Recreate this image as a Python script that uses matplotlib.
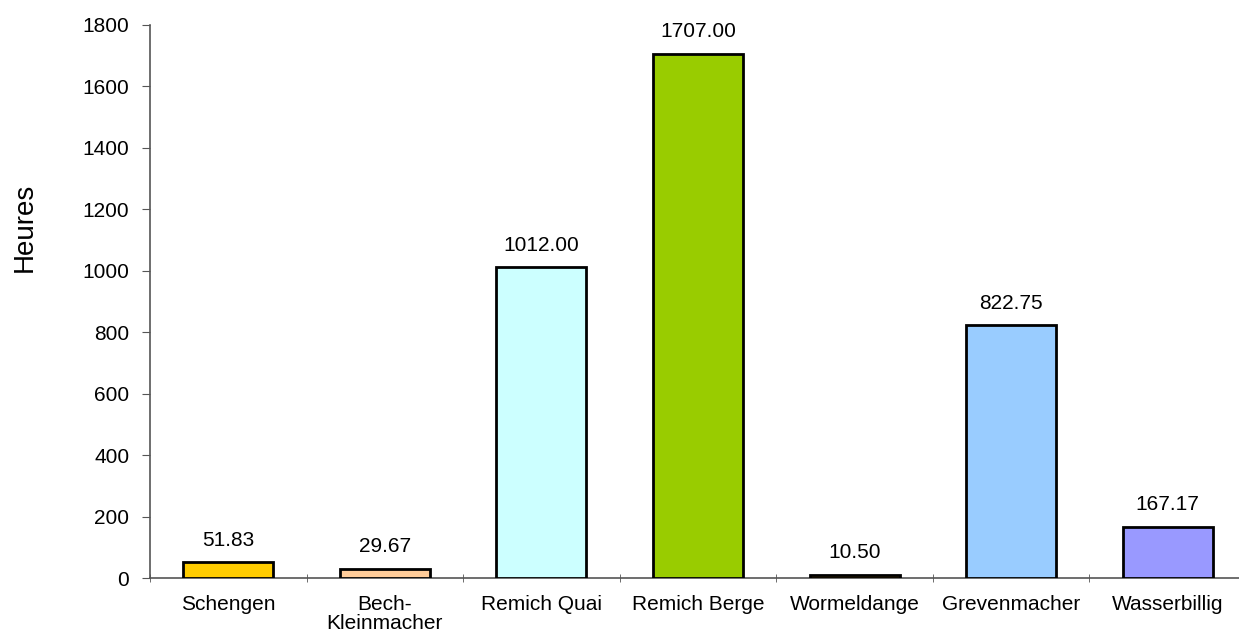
import numpy as np
import matplotlib.pyplot as plt

plt.rcParams['font.family'] = ['Liberation Sans', 'DejaVu Sans']

stations = ['Schengen', 'Bech-\nKleinmacher', 'Remich Quai', 'Remich Berge',
            'Wormeldange', 'Grevenmacher', 'Wasserbillig']
heures = [51.83, 29.67, 1012.00, 1707.00, 10.50, 822.75, 167.17]
couleurs = ['#FFCC00', '#FFCC99', '#CCFFFF', '#99CC00', '#996600', '#99CCFF', '#9999FF']

fig = plt.figure(figsize=(12.39, 6.35), dpi=100)
ax = fig.add_axes([150 / 1239, 57 / 635, 1096 / 1239, 553 / 635])

x = np.arange(len(stations))
ax.bar(x, heures, width=0.575, color=couleurs, edgecolor='black', linewidth=2, zorder=3)

for xi, h in zip(x, heures):
    ax.annotate(f'{h:.2f}', (xi, h), xytext=(0, 9), textcoords='offset points',
                ha='center', va='bottom', fontsize=15)

ax.set_xlim(-0.5, len(stations) - 0.5)
ax.set_ylim(0, 1800)
ax.set_yticks(np.arange(0, 1801, 200))
ax.set_xticks(x)
ax.set_xticklabels(stations, fontsize=15, linespacing=1.05)
ax.set_xticks(np.arange(-0.5, len(stations), 1), minor=True)
ax.tick_params(axis='x', which='major', length=0, pad=12)
ax.tick_params(axis='x', which='minor', length=6, color='#555555', direction='inout')
ax.tick_params(axis='y', labelsize=15, length=6, color='#555555', pad=9)

for s in ['top', 'right']:
    ax.spines[s].set_visible(False)
for s in ['left', 'bottom']:
    ax.spines[s].set_color('#555555')
    ax.spines[s].set_linewidth(1.2)

# titre de l'axe Y, placé un peu au-dessus du centre comme dans l'original
fig.text(25 / 1239, 1 - 227 / 635, 'Heures', rotation=90, ha='center', va='center', fontsize=20)

fig.savefig('out.png', dpi=100)
